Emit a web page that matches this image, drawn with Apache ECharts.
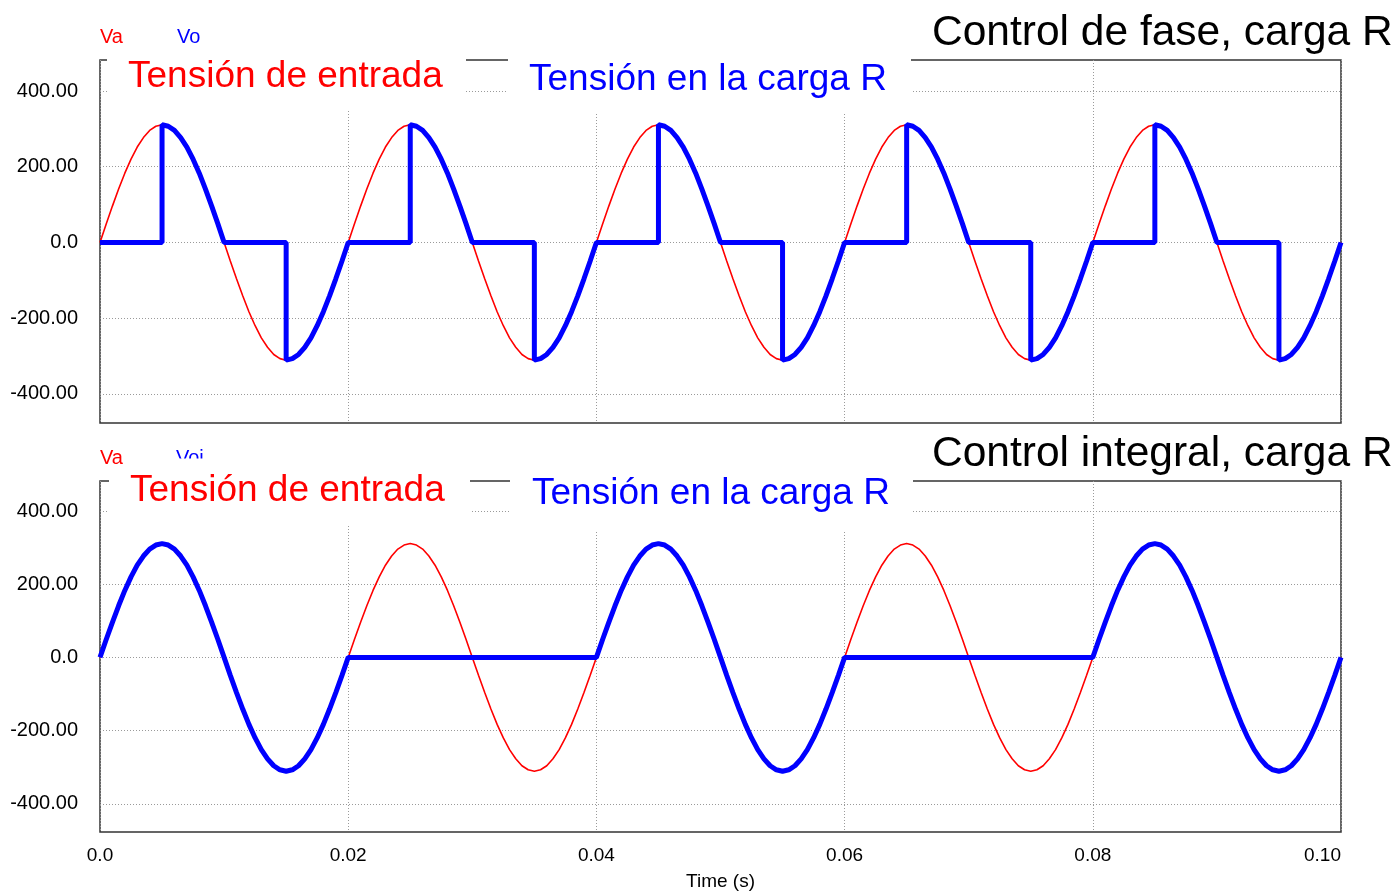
<!DOCTYPE html>
<html>
<head>
<meta charset="utf-8">
<script src="https://cdn.jsdelivr.net/npm/echarts@6/dist/echarts.min.js"></script>
<style>
  html, body { margin: 0; padding: 0; background: #ffffff; }
  #chart { width: 1400px; height: 892px; }
</style>
</head>
<body>
<div id="chart"></div>
<script>
// ---------- DATA ----------
// time samples (s)
const time = [
  0,0.0005,0.001,0.0015,0.002,0.0025,0.003,0.0035,0.004,0.0045,
  0.005,0.0055,0.006,0.0065,0.007,0.0075,0.008,0.0085,0.009,0.0095,
  0.01,0.0105,0.011,0.0115,0.012,0.0125,0.013,0.0135,0.014,0.0145,
  0.015,0.0155,0.016,0.0165,0.017,0.0175,0.018,0.0185,0.019,0.0195,
  0.02,0.0205,0.021,0.0215,0.022,0.0225,0.023,0.0235,0.024,0.0245,
  0.025,0.0255,0.026,0.0265,0.027,0.0275,0.028,0.0285,0.029,0.0295,
  0.03,0.0305,0.031,0.0315,0.032,0.0325,0.033,0.0335,0.034,0.0345,
  0.035,0.0355,0.036,0.0365,0.037,0.0375,0.038,0.0385,0.039,0.0395,
  0.04,0.0405,0.041,0.0415,0.042,0.0425,0.043,0.0435,0.044,0.0445,
  0.045,0.0455,0.046,0.0465,0.047,0.0475,0.048,0.0485,0.049,0.0495,
  0.05,0.0505,0.051,0.0515,0.052,0.0525,0.053,0.0535,0.054,0.0545,
  0.055,0.0555,0.056,0.0565,0.057,0.0575,0.058,0.0585,0.059,0.0595,
  0.06,0.0605,0.061,0.0615,0.062,0.0625,0.063,0.0635,0.064,0.0645,
  0.065,0.0655,0.066,0.0665,0.067,0.0675,0.068,0.0685,0.069,0.0695,
  0.07,0.0705,0.071,0.0715,0.072,0.0725,0.073,0.0735,0.074,0.0745,
  0.075,0.0755,0.076,0.0765,0.077,0.0775,0.078,0.0785,0.079,0.0795,
  0.08,0.0805,0.081,0.0815,0.082,0.0825,0.083,0.0835,0.084,0.0845,
  0.085,0.0855,0.086,0.0865,0.087,0.0875,0.088,0.0885,0.089,0.0895,
  0.09,0.0905,0.091,0.0915,0.092,0.0925,0.093,0.0935,0.094,0.0945,
  0.095,0.0955,0.096,0.0965,0.097,0.0975,0.098,0.0985,0.099,0.0995,
  0.1
];
// input voltage Va (V)
const vInput = [
  0,49,96,141,183,220,252,277,296,307,
  311,307,296,277,252,220,183,141,96,49,
  0,-49,-96,-141,-183,-220,-252,-277,-296,-307,
  -311,-307,-296,-277,-252,-220,-183,-141,-96,-49,
  0,49,96,141,183,220,252,277,296,307,
  311,307,296,277,252,220,183,141,96,49,
  0,-49,-96,-141,-183,-220,-252,-277,-296,-307,
  -311,-307,-296,-277,-252,-220,-183,-141,-96,-49,
  0,49,96,141,183,220,252,277,296,307,
  311,307,296,277,252,220,183,141,96,49,
  0,-49,-96,-141,-183,-220,-252,-277,-296,-307,
  -311,-307,-296,-277,-252,-220,-183,-141,-96,-49,
  0,49,96,141,183,220,252,277,296,307,
  311,307,296,277,252,220,183,141,96,49,
  0,-49,-96,-141,-183,-220,-252,-277,-296,-307,
  -311,-307,-296,-277,-252,-220,-183,-141,-96,-49,
  0,49,96,141,183,220,252,277,296,307,
  311,307,296,277,252,220,183,141,96,49,
  0,-49,-96,-141,-183,-220,-252,-277,-296,-307,
  -311,-307,-296,-277,-252,-220,-183,-141,-96,-49,
  0
];
// phase control output Vo: time points (duplicated at firing instants) and values
const tPhase = [
  0,0.005,0.005,0.0055,0.006,0.0065,0.007,0.0075,0.008,0.0085,0.009,0.0095,0.01,
  0.015,0.015,0.0155,0.016,0.0165,0.017,0.0175,0.018,0.0185,0.019,0.0195,
  0.02,0.025,0.025,0.0255,0.026,0.0265,0.027,0.0275,0.028,0.0285,0.029,0.0295,0.03,
  0.035,0.035,0.0355,0.036,0.0365,0.037,0.0375,0.038,0.0385,0.039,0.0395,
  0.04,0.045,0.045,0.0455,0.046,0.0465,0.047,0.0475,0.048,0.0485,0.049,0.0495,0.05,
  0.055,0.055,0.0555,0.056,0.0565,0.057,0.0575,0.058,0.0585,0.059,0.0595,
  0.06,0.065,0.065,0.0655,0.066,0.0665,0.067,0.0675,0.068,0.0685,0.069,0.0695,0.07,
  0.075,0.075,0.0755,0.076,0.0765,0.077,0.0775,0.078,0.0785,0.079,0.0795,
  0.08,0.085,0.085,0.0855,0.086,0.0865,0.087,0.0875,0.088,0.0885,0.089,0.0895,0.09,
  0.095,0.095,0.0955,0.096,0.0965,0.097,0.0975,0.098,0.0985,0.099,0.0995,
  0.1
];
const vPhase = [
  0,0,311,307,296,277,252,220,183,141,96,49,0,
  0,-311,-307,-296,-277,-252,-220,-183,-141,-96,-49,
  0,0,311,307,296,277,252,220,183,141,96,49,0,
  0,-311,-307,-296,-277,-252,-220,-183,-141,-96,-49,
  0,0,311,307,296,277,252,220,183,141,96,49,0,
  0,-311,-307,-296,-277,-252,-220,-183,-141,-96,-49,
  0,0,311,307,296,277,252,220,183,141,96,49,0,
  0,-311,-307,-296,-277,-252,-220,-183,-141,-96,-49,
  0,0,311,307,296,277,252,220,183,141,96,49,0,
  0,-311,-307,-296,-277,-252,-220,-183,-141,-96,-49,
  0
];
// integral control output Voi (on the same time grid as the input)
const vIntegral = [
  0,49,96,141,183,220,252,277,296,307,
  311,307,296,277,252,220,183,141,96,49,
  0,-49,-96,-141,-183,-220,-252,-277,-296,-307,
  -311,-307,-296,-277,-252,-220,-183,-141,-96,-49,
  0,0,0,0,0,0,0,0,0,0,
  0,0,0,0,0,0,0,0,0,0,
  0,0,0,0,0,0,0,0,0,0,
  0,0,0,0,0,0,0,0,0,0,
  0,49,96,141,183,220,252,277,296,307,
  311,307,296,277,252,220,183,141,96,49,
  0,-49,-96,-141,-183,-220,-252,-277,-296,-307,
  -311,-307,-296,-277,-252,-220,-183,-141,-96,-49,
  0,0,0,0,0,0,0,0,0,0,
  0,0,0,0,0,0,0,0,0,0,
  0,0,0,0,0,0,0,0,0,0,
  0,0,0,0,0,0,0,0,0,0,
  0,49,96,141,183,220,252,277,296,307,
  311,307,296,277,252,220,183,141,96,49,
  0,-49,-96,-141,-183,-220,-252,-277,-296,-307,
  -311,-307,-296,-277,-252,-220,-183,-141,-96,-49,
  0
];
const yTicks = [-400, -200, 0, 200, 400];
const titles = ['Control de fase, carga R', 'Control integral, carga R'];
const annotIn = 'Tensión de entrada';
const annotOut = 'Tensión en la carga R';
const traceNames = [['Va', 'Vo'], ['Va', 'Voi']];
const xName = 'Time (s)';

// ---------- CHART ----------
const FONT = '"Liberation Sans", Arial, Helvetica, sans-serif';
const chart = echarts.init(document.getElementById('chart'), null, { renderer: 'canvas' });

const pairs = (ts, vs) => ts.map((t, i) => [t, vs[i]]);
const yFmt = v => (v === 0 ? '0.0' : v.toFixed(2));
const xFmt = v => (Math.abs(v) < 1e-12 ? '0.0' : v.toFixed(2));
const gridLine = { show: true, lineStyle: { color: '#9a9a9a', width: 1, type: [1, 2] } };

function xAxisFor(idx, showLabels) {
  return {
    gridIndex: idx, type: 'value', min: 0, max: 0.1, interval: 0.02,
    axisLine: { show: false }, axisTick: { show: false },
    axisLabel: {
      show: showLabels, formatter: xFmt, fontSize: 19, color: '#000', fontFamily: FONT,
      margin: 14, alignMaxLabel: 'right', alignMinLabel: 'center'
    },
    name: showLabels ? xName : '', nameLocation: 'middle', nameGap: 40,
    nameTextStyle: { fontSize: 19, color: '#000', fontFamily: FONT },
    splitLine: gridLine
  };
}
function yAxisFor(idx) {
  return {
    gridIndex: idx, type: 'value', min: -477, max: 482,
    axisLine: { show: false },
    axisTick: { show: false, customValues: yTicks },
    axisLabel: { customValues: yTicks, formatter: yFmt, fontSize: 20, color: '#000', fontFamily: FONT, margin: 22 },
    splitLine: gridLine
  };
}

const lineRed = { color: '#ff0000', width: 1.6 };
const lineBlue = { color: '#0000ff', width: 5 };

function txt(text, x, y, size, color) {
  return {
    type: 'text', x: x, y: y, z: 101,
    style: { text: text, fill: color, fontSize: size, fontFamily: FONT, align: 'left', verticalAlign: 'middle' }
  };
}
function box(x, y, w, h) {
  return { type: 'rect', z: 102, shape: { x: x, y: y, width: w, height: h }, style: { fill: '#ffffff' } };
}

const option = {
  animation: false,
  backgroundColor: '#ffffff',
  grid: [
    { left: 100, right: 59, top: 60, height: 363, show: true, borderColor: '#333', borderWidth: 1.5, backgroundColor: 'transparent' },
    { left: 100, right: 59, top: 481, height: 352, show: true, borderColor: '#333', borderWidth: 1.5, backgroundColor: 'transparent' }
  ],
  xAxis: [xAxisFor(0, false), xAxisFor(1, true)],
  yAxis: [yAxisFor(0), yAxisFor(1)],
  series: [
    { name: 'Va', type: 'line', xAxisIndex: 0, yAxisIndex: 0, data: pairs(time, vInput), showSymbol: false, z: 2, lineStyle: lineRed, itemStyle: { color: '#ff0000' } },
    { name: 'Vo', type: 'line', xAxisIndex: 0, yAxisIndex: 0, data: pairs(tPhase, vPhase), showSymbol: false, z: 3, lineStyle: lineBlue, itemStyle: { color: '#0000ff' } },
    { name: 'Va2', type: 'line', xAxisIndex: 1, yAxisIndex: 1, data: pairs(time, vInput), showSymbol: false, z: 2, lineStyle: lineRed, itemStyle: { color: '#ff0000' } },
    { name: 'Voi', type: 'line', xAxisIndex: 1, yAxisIndex: 1, data: pairs(time, vIntegral), showSymbol: false, z: 3, lineStyle: lineBlue, itemStyle: { color: '#0000ff' } }
  ],
  graphic: [
    // clipped trace names (top)
    txt(traceNames[0][0], 100, 37.5, 20, '#ff0000'),
    txt(traceNames[0][1], 177, 37.5, 20, '#0000ff'),
    box(95, 44.5, 120, 10),
    // top panel boxes & annotations
    { type: 'rect', z: 100, shape: { x: 107, y: 52, width: 359, height: 57 }, style: { fill: '#ffffff' } },
    { type: 'rect', z: 100, shape: { x: 508, y: 52, width: 403, height: 61 }, style: { fill: '#ffffff' } },
    txt(annotIn, 128, 77, 37, '#ff0000'),
    txt(annotOut, 529, 80, 37, '#0000ff'),
    txt(titles[0], 932, 33, 42.5, '#000000'),
    // clipped trace names (bottom)
    txt(traceNames[1][0], 100, 458, 20, '#ff0000'),
    txt(traceNames[1][1], 176, 458, 20, '#0000ff'),
    box(95, 465.5, 40, 8),
    box(170, 458.5, 40, 14),
    { type: 'rect', z: 100, shape: { x: 109, y: 470, width: 361, height: 56 }, style: { fill: '#ffffff' } },
    { type: 'rect', z: 100, shape: { x: 510, y: 472, width: 403, height: 60 }, style: { fill: '#ffffff' } },
    txt(annotIn, 130, 491, 37, '#ff0000'),
    txt(annotOut, 532, 494, 37, '#0000ff'),
    txt(titles[1], 932, 454, 42.5, '#000000')
  ]
};
chart.setOption(option);
</script>
</body>
</html>
